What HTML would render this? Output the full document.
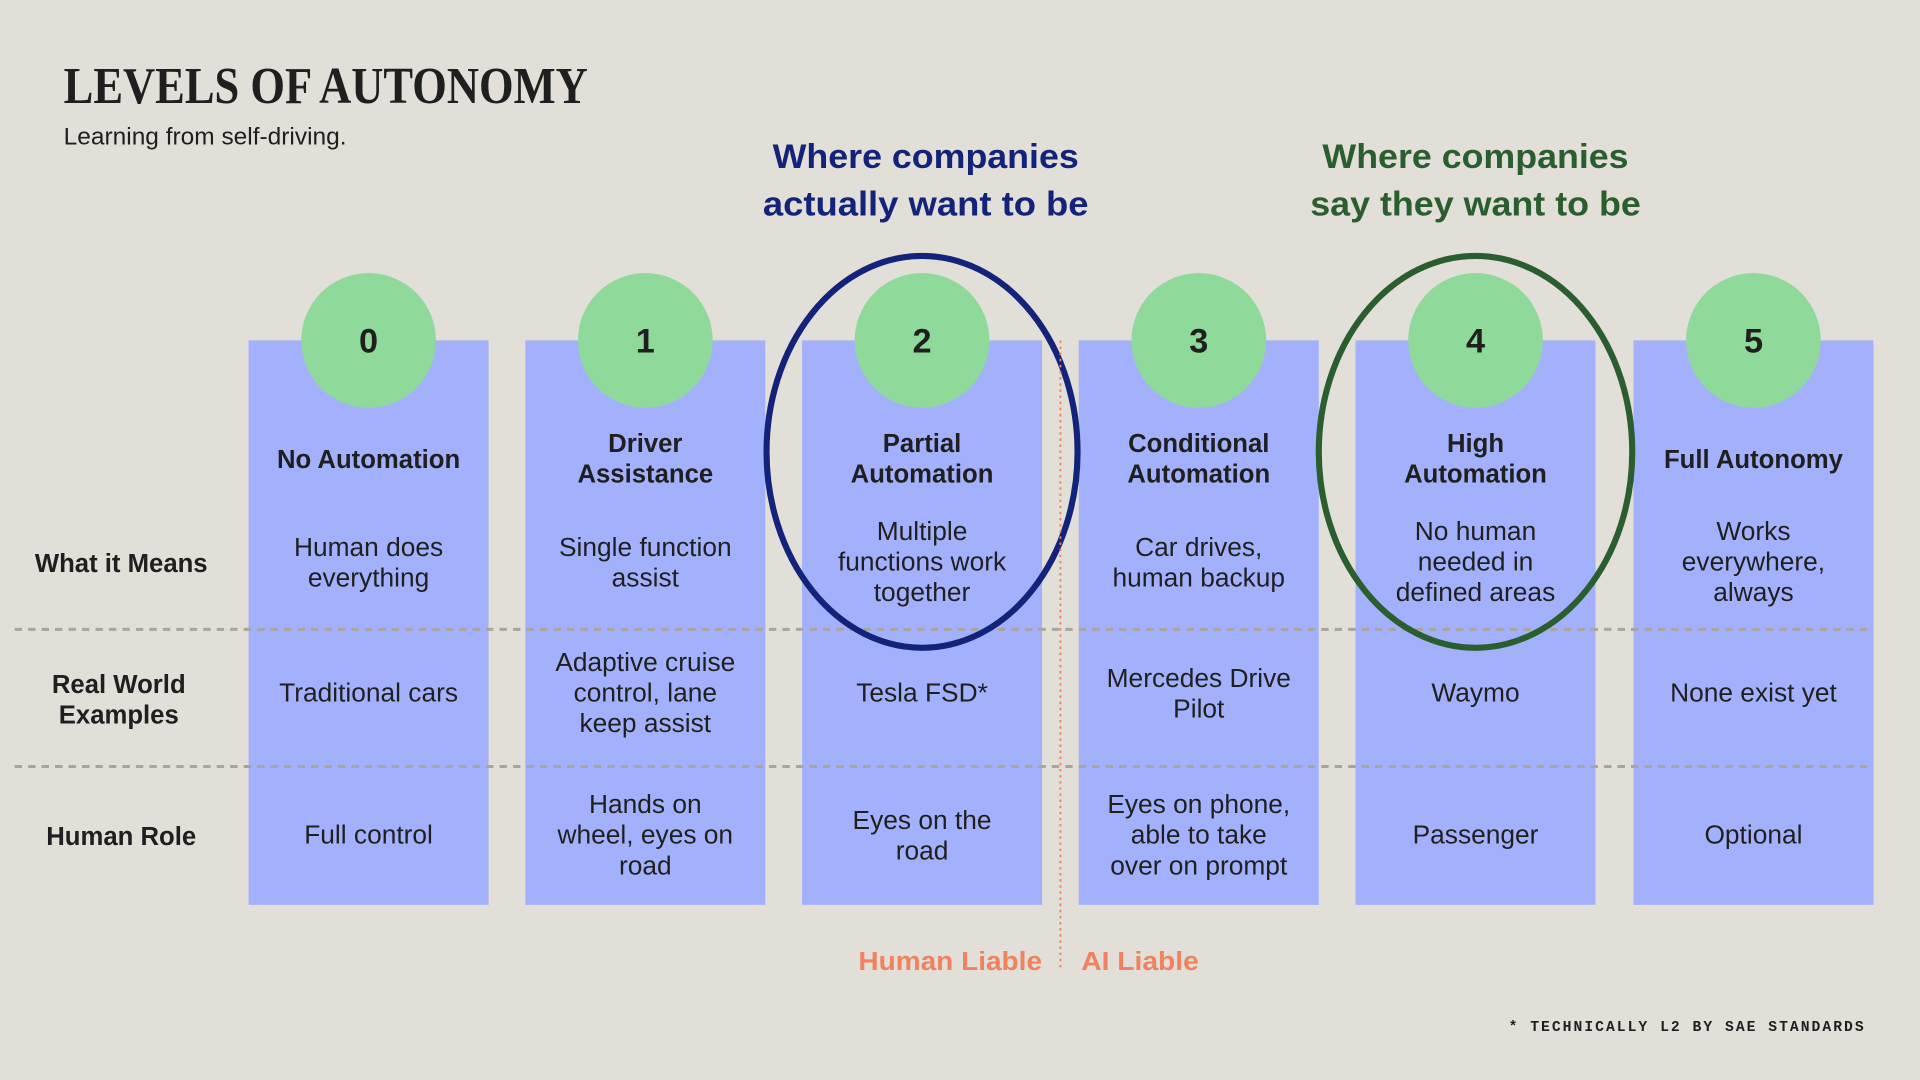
<!DOCTYPE html>
<html><head><meta charset="utf-8"><style>
html,body{margin:0;padding:0;background:#e2ded8;width:1920px;height:1080px;overflow:hidden}
svg{display:block}
</style></head><body>
<svg width="1920" height="1080" viewBox="0 0 1568 882" xmlns="http://www.w3.org/2000/svg" font-family="Liberation Sans,sans-serif">
<rect width="1568" height="882" fill="#e2ded8"/>
<text x="52" y="84" font-family="Liberation Serif,serif" font-weight="bold" font-size="42" fill="#1f1f1f" textLength="428" lengthAdjust="spacingAndGlyphs">LEVELS OF AUTONOMY</text>
<text x="52" y="118" font-size="20" fill="#1f1f1f">Learning from self-driving.</text>
<g font-size="28" font-weight="bold" text-anchor="middle">
<text x="756" y="137" fill="#13237a" textLength="250" lengthAdjust="spacingAndGlyphs">Where companies</text>
<text x="756" y="176" fill="#13237a" textLength="266" lengthAdjust="spacingAndGlyphs">actually want to be</text>
<text x="1205" y="137" fill="#2b5e2e" textLength="250" lengthAdjust="spacingAndGlyphs">Where companies</text>
<text x="1205" y="176" fill="#2b5e2e" textLength="270" lengthAdjust="spacingAndGlyphs">say they want to be</text>
</g>
<g fill="#a3b1fc">
<rect x="203" y="278" width="196" height="461"/>
<rect x="429" y="278" width="196" height="461"/>
<rect x="655" y="278" width="196" height="461"/>
<rect x="881" y="278" width="196" height="461"/>
<rect x="1107" y="278" width="196" height="461"/>
<rect x="1334" y="278" width="196" height="461"/>
</g>
<g stroke="#a8a59f" stroke-width="2.5" stroke-dasharray="6,5">
<line x1="12" y1="514" x2="1530" y2="514"/>
<line x1="12" y1="626" x2="1530" y2="626"/>
</g>
<g fill="#8fd99b">
<circle cx="301" cy="278" r="55"/><circle cx="527" cy="278" r="55"/><circle cx="753" cy="278" r="55"/>
<circle cx="979" cy="278" r="55"/><circle cx="1205" cy="278" r="55"/><circle cx="1432" cy="278" r="55"/>
</g>
<g font-size="28" font-weight="bold" text-anchor="middle" fill="#1f1f1f">
<text x="301" y="288">0</text><text x="527" y="288">1</text><text x="753" y="288">2</text>
<text x="979" y="288">3</text><text x="1205" y="288">4</text><text x="1432" y="288">5</text>
</g>
<g font-size="21" font-weight="bold" text-anchor="middle" fill="#1f1f1f">
<text x="301" y="382">No Automation</text>
<text x="527" y="369">Driver</text><text x="527" y="394">Assistance</text>
<text x="753" y="369">Partial</text><text x="753" y="394">Automation</text>
<text x="979" y="369">Conditional</text><text x="979" y="394">Automation</text>
<text x="1205" y="369">High</text><text x="1205" y="394">Automation</text>
<text x="1432" y="382">Full Autonomy</text>
<text x="99" y="467">What it Means</text>
<text x="97" y="566">Real World</text><text x="97" y="591">Examples</text>
<text x="99" y="690">Human Role</text>
</g>
<g font-size="21.5" text-anchor="middle" fill="#1f1f1f">
<text x="301" y="454">Human does</text><text x="301" y="479">everything</text>
<text x="527" y="454">Single function</text><text x="527" y="479">assist</text>
<text x="753" y="441">Multiple</text><text x="753" y="466">functions work</text><text x="753" y="491">together</text>
<text x="979" y="454">Car drives,</text><text x="979" y="479">human backup</text>
<text x="1205" y="441">No human</text><text x="1205" y="466">needed in</text><text x="1205" y="491">defined areas</text>
<text x="1432" y="441">Works</text><text x="1432" y="466">everywhere,</text><text x="1432" y="491">always</text>

<text x="301" y="573">Traditional cars</text>
<text x="527" y="548">Adaptive cruise</text><text x="527" y="573">control, lane</text><text x="527" y="598">keep assist</text>
<text x="753" y="573">Tesla FSD*</text>
<text x="979" y="561">Mercedes Drive</text><text x="979" y="586">Pilot</text>
<text x="1205" y="573">Waymo</text>
<text x="1432" y="573">None exist yet</text>

<text x="301" y="689">Full control</text>
<text x="527" y="664">Hands on</text><text x="527" y="689">wheel, eyes on</text><text x="527" y="714">road</text>
<text x="753" y="677">Eyes on the</text><text x="753" y="702">road</text>
<text x="979" y="664">Eyes on phone,</text><text x="979" y="689">able to take</text><text x="979" y="714">over on prompt</text>
<text x="1205" y="689">Passenger</text>
<text x="1432" y="689">Optional</text>
</g>
<ellipse cx="753" cy="369" rx="127" ry="160" fill="none" stroke="#13237a" stroke-width="5"/>
<ellipse cx="1205" cy="369" rx="128" ry="160" fill="none" stroke="#2b5e2e" stroke-width="5"/>
<line x1="866" y1="278" x2="866" y2="792" stroke="#f0825f" stroke-width="1.5" stroke-dasharray="2,3"/>
<g font-size="21" font-weight="bold" fill="#f0825f">
<text x="851" y="792" text-anchor="end" textLength="150" lengthAdjust="spacingAndGlyphs">Human Liable</text>
<text x="883" y="792" textLength="96" lengthAdjust="spacingAndGlyphs">AI Liable</text>
</g>
<text x="1522" y="842" text-anchor="end" font-family="Liberation Mono,monospace" font-size="12" font-weight="bold" fill="#1f1f1f" textLength="290" lengthAdjust="spacing">* TECHNICALLY L2 BY SAE STANDARDS</text>
</svg>
</body></html>
